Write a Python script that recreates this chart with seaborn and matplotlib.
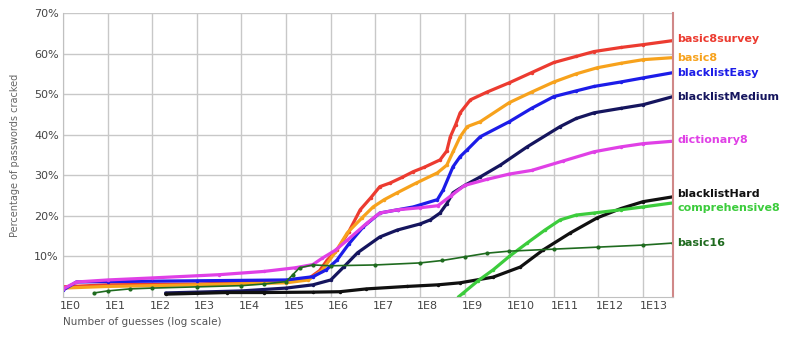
import numpy as np
import pandas as pd
import matplotlib
matplotlib.use("Agg")
import matplotlib.pyplot as plt
import matplotlib.transforms as mtransforms
from matplotlib.ticker import NullLocator
import seaborn as sns

# x values are log10(number of guesses), y values are % of passwords cracked
basic8survey_x = [0, 1, 3, 5, 5.5, 5.75, 5.92, 6.14, 6.4, 6.66, 6.9, 7.1, 7.33, 7.6, 7.85, 8.1, 8.45, 8.6, 8.68, 8.8, 8.9, 9.13, 9.5, 10.0, 10.5, 11.0, 11.5, 11.9, 12.5, 13.0, 13.67]
basic8survey_y = [2.5, 3.0, 3.2, 3.8, 4.5, 6.5, 9.1, 11.6, 16, 21.5, 24.5, 27.2, 28.1, 29.5, 30.9, 32, 33.8, 36, 39.5, 42.5, 45.4, 48.6, 50.5, 52.8, 55.3, 57.8, 59.3, 60.5, 61.5, 62.2, 63.2]

basic8_x = [0, 1, 3, 5, 5.5, 5.8, 6.1, 6.37, 6.7, 6.95, 7.2, 7.49, 7.9, 8.39, 8.6, 8.75, 8.9, 9.06, 9.35, 10.0, 10.5, 11.0, 11.5, 11.97, 12.5, 13.0, 13.67]
basic8_y = [2.2, 2.6, 3.0, 3.5, 4.2, 6.5, 11, 15.8, 19.5, 22.2, 24, 25.7, 28, 30.6, 32.5, 36, 39.5, 42, 43.2, 47.9, 50.5, 53, 55, 56.5, 57.6, 58.5, 59]

blacklistEasy_x = [0, 0.3, 1, 3, 5, 5.6, 5.9, 6.14, 6.4, 6.73, 7.1, 7.5, 7.85, 8.39, 8.52, 8.74, 8.9, 9.06, 9.35, 10.0, 10.5, 11.0, 11.5, 11.9, 12.5, 13.0, 13.67]
blacklistEasy_y = [1.7, 3.7, 3.8, 4.0, 4.2, 5.0, 6.7, 9.1, 13, 17.3, 20.7, 21.5, 22.2, 24, 26.4, 32.1, 34.6, 36.3, 39.5, 43.2, 46.5, 49.4, 50.8, 51.9, 53, 54, 55.3]

blacklistMedium_x = [2.3, 3, 4, 5, 5.6, 6.0, 6.3, 6.6, 7.1, 7.49, 8.0, 8.23, 8.45, 8.6, 8.74, 9.0, 9.35, 9.8, 10.4, 11.14, 11.5, 11.9, 12.5, 13.0, 13.67]
blacklistMedium_y = [1.0, 1.2, 1.5, 2.2, 3.0, 4.2, 7.5, 10.9, 14.8, 16.5, 18, 19, 20.7, 23, 25.7, 27.5, 29.6, 32.5, 37, 42, 44, 45.4, 46.5, 47.4, 49.4]

dictionary8_x = [0, 0.3, 1, 2, 3.5, 4.5, 5.2, 5.6, 5.8, 6.1, 6.37, 6.82, 7.1, 7.5, 8.0, 8.4, 8.7, 9.0, 9.5, 10.0, 10.5, 11.2, 11.9, 12.5, 13.0, 13.67]
dictionary8_y = [2.0, 3.7, 4.2, 4.7, 5.5, 6.3, 7.2, 8.0, 9.5, 11.5, 14, 18.3, 20.7, 21.5, 22, 22.5, 25, 27.5, 29, 30.3, 31.2, 33.5, 35.8, 37.0, 37.8, 38.4]

blacklistHard_x = [2.3, 3, 3.68, 4.5, 5.6, 6.2, 6.8, 7.7, 8.4, 8.9, 9.64, 10.25, 10.76, 11.37, 11.97, 12.5, 13.0, 13.67]
blacklistHard_y = [0.7, 0.9, 1.1, 1.1, 1.2, 1.3, 2.0, 2.6, 3.0, 3.5, 4.9, 7.4, 11.6, 15.8, 19.5, 21.8, 23.5, 24.7]

comprehensive8_x = [8.86, 8.97, 9.3, 9.64, 10.0, 10.4, 10.8, 11.14, 11.5, 11.9, 12.5, 13.0, 13.67]
comprehensive8_y = [0, 1.0, 4.0, 6.7, 10, 13.3, 16.5, 19, 20.2, 20.7, 21.5, 22.2, 23.2]

basic16_x = [0.7, 1.0, 1.5, 2.0, 3.0, 4.0, 4.5, 5.0, 5.15, 5.3, 5.6, 6.0, 7.0, 8.0, 8.5, 9.0, 9.5, 10.0, 11.0, 12.0, 13.0, 13.67]
basic16_y = [1.0, 1.5, 2.0, 2.2, 2.5, 2.8, 3.2, 3.8, 5.5, 7.2, 7.9, 7.7, 7.9, 8.4, 9.0, 9.9, 10.8, 11.3, 11.8, 12.3, 12.8, 13.3]

series = [
    ("basic8survey", basic8survey_x, basic8survey_y, "#ec3b30"),
    ("basic8", basic8_x, basic8_y, "#f7a21c"),
    ("blacklistEasy", blacklistEasy_x, blacklistEasy_y, "#1c1ce8"),
    ("blacklistMedium", blacklistMedium_x, blacklistMedium_y, "#15155e"),
    ("dictionary8", dictionary8_x, dictionary8_y, "#e040e6"),
    ("blacklistHard", blacklistHard_x, blacklistHard_y, "#101010"),
    ("comprehensive8", comprehensive8_x, comprehensive8_y, "#3ccc3c"),
    ("basic16", basic16_x, basic16_y, "#1f6b1f"),
]
label_nudge = {"blacklistHard": 0.8, "comprehensive8": -1.3, "basic8survey": 0.5, "dictionary8": 0.4}
xtick_exp = list(range(14))
ytick_vals = [10, 20, 30, 40, 50, 60, 70]

sns.set_style("whitegrid", {"grid.color": "#c8c8c8"})
plt.rcParams["font.family"] = ["DejaVu Sans"]

fig = plt.figure(figsize=(7.92, 3.39), dpi=100)
ax = fig.add_axes([63 / 792, 1 - 297 / 339, (673 - 63) / 792, (297 - 13) / 339])

for name, xs, ys, color in series:
    df = pd.DataFrame({"guesses": 10.0 ** np.array(xs), "pct": ys})
    thin = name == "basic16"
    sns.lineplot(data=df, x="guesses", y="pct", ax=ax, color=color,
                 linewidth=1.2 if thin else 2.3, marker="o",
                 markersize=3 if thin else 2.5, markeredgewidth=0, sort=False)
    ax.annotate(name, xy=(1, ys[-1] + label_nudge.get(name, 0)),
                xycoords=("axes fraction", "data"), xytext=(3, 0),
                textcoords="offset points", va="center", ha="left",
                fontsize=8, fontweight="bold", color=color)

ax.set_xscale("log")
ax.set_xlim(1, 10 ** 13.67)
ax.set_ylim(0, 70)
ax.set_xticks([10.0 ** e for e in xtick_exp])
ax.set_xticklabels([f"1E{e}" for e in xtick_exp])
ax.xaxis.set_minor_locator(NullLocator())
ax.set_yticks(ytick_vals)
ax.set_yticklabels([f"{v}%" for v in ytick_vals])
ax.tick_params(length=0, labelsize=8, labelcolor="#444444", pad=3)
offset = mtransforms.ScaledTranslation(-2 / 72, 0, fig.dpi_scale_trans)
for lab in ax.get_xticklabels():
    lab.set_ha("left")
    lab.set_transform(lab.get_transform() + offset)

ax.grid(True, color="#c8c8c8", linewidth=1)
for side in ["left", "bottom", "top"]:
    ax.spines[side].set_color("#c0c0c0")
ax.spines["top"].set_visible(False)
ax.spines["right"].set_color("#d08888")
ax.spines["right"].set_linewidth(1.5)

ax.set_xlabel("Number of guesses (log scale)", fontsize=7.5, color="#555555", loc="left", labelpad=4)
ax.set_ylabel("Percentage of passwords cracked", fontsize=7, color="#666666", labelpad=10)

fig.savefig("out.png", dpi=100)
